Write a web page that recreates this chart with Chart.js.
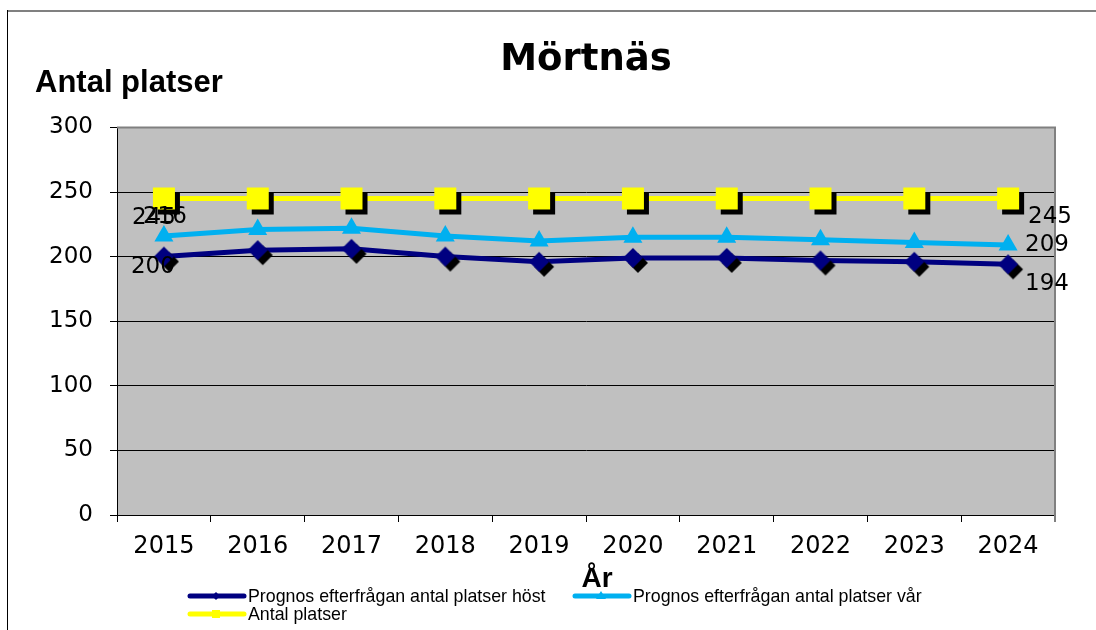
<!DOCTYPE html>
<html>
<head>
<meta charset="utf-8">
<script src="https://cdn.jsdelivr.net/npm/chart.js@4.4.1/dist/chart.umd.min.js"></script>
<style>
body{margin:0;background:#fff}
#wrap{position:relative;width:1096px;height:630px;overflow:hidden}
#mychart{position:absolute;left:0;top:0}
.lg{position:absolute;height:18px;font:17.8px "Liberation Sans",Arial,sans-serif;color:#000;white-space:nowrap;line-height:18px}
.lg canvas{position:absolute;left:0;top:2px}
.lg span{position:absolute;left:61px;top:0}
</style>
</head>
<body>
<div id="wrap">
<canvas id="mychart" width="1096" height="630"></canvas>
<div id="legend"></div>
</div>
<script>
const years = ['2015', '2016', '2017', '2018', '2019', '2020', '2021', '2022', '2023', '2024']
const hostValues = [200, 205, 206, 200, 196, 199, 199, 197, 196, 194]
const varValues = [216, 221, 222, 216, 212, 215, 215, 213, 211, 209]
const antalPlatser = [245, 245, 245, 245, 245, 245, 245, 245, 245, 245]
const yTicks = [0, 50, 100, 150, 200, 250, 300]

const seriesNames = ['Prognos efterfrågan antal platser höst', 'Prognos efterfrågan antal platser vår', 'Antal platser']
const seriesColors = ['#000080', '#00b0f0', '#ffff00']

// marker with black drop shadow, drawn into a small canvas and used as pointStyle
function makeMarker(shape, color, half, shadow){
    const c = document.createElement('canvas')
    const size = 2 * (half + shadow + 2)
    c.width = size
    c.height = size
    const ctx = c.getContext('2d')
    const m = size / 2
    function path(x, y){
        ctx.beginPath()
        if(shape === 'diamond'){
            ctx.moveTo(x - half, y)
            ctx.lineTo(x, y - half)
            ctx.lineTo(x + half, y)
            ctx.lineTo(x, y + half)
        }
        else{
            ctx.rect(x - half, y - half, half * 2, half * 2)
        }
        ctx.closePath()
    }
    ctx.fillStyle = '#000'
    path(m + shadow, m + shadow)
    ctx.fill()
    ctx.fillStyle = color
    path(m, m)
    ctx.fill()
    return c
}

const frame = {
    id: 'frame',
    beforeDraw(chart){
        const ctx = chart.ctx
        const a = chart.chartArea
        ctx.save()
        ctx.fillStyle = '#fff'
        ctx.fillRect(0, 0, chart.width, chart.height)
        ctx.fillStyle = '#c0c0c0'
        ctx.fillRect(a.left, a.top, a.right - a.left, a.bottom - a.top)
        ctx.strokeStyle = '#808080'
        ctx.lineWidth = 2
        ctx.beginPath()
        ctx.moveTo(7, 11)
        ctx.lineTo(chart.width, 11)
        ctx.stroke()
        ctx.strokeStyle = '#000'
        ctx.lineWidth = 1
        ctx.beginPath()
        ctx.moveTo(7.5, 10)
        ctx.lineTo(7.5, chart.height)
        ctx.stroke()
        ctx.restore()
    },
    beforeDatasetsDraw(chart){
        const ctx = chart.ctx
        const a = chart.chartArea
        ctx.save()
        ctx.strokeStyle = '#808080'
        ctx.lineWidth = 2
        ctx.beginPath()
        ctx.moveTo(a.left, a.top)
        ctx.lineTo(a.right, a.top)
        ctx.lineTo(a.right, a.bottom + 7)
        ctx.stroke()
        ctx.restore()
    },
    afterDraw(chart){
        const ctx = chart.ctx
        ctx.save()
        ctx.fillStyle = '#000'
        ctx.textBaseline = 'alphabetic'
        ctx.font = 'bold 31px "Liberation Sans", Arial, sans-serif'
        ctx.textAlign = 'left'
        ctx.fillText('Antal platser', 35, 92)
        ctx.font = 'bold 28px "Liberation Sans", Arial, sans-serif'
        ctx.textAlign = 'center'
        ctx.fillText('År', 597, 587)
        ctx.restore()
    }
}

// value labels at first and last point of each line
const endLabels = {
    id: 'endLabels',
    afterDatasetsDraw(chart, args, opts){
        const ctx = chart.ctx
        ctx.save()
        ctx.font = '23px "DejaVu Sans", Verdana, sans-serif'
        ctx.fillStyle = '#000'
        ctx.textBaseline = 'middle'
        ctx.textAlign = 'left'
        chart.data.datasets.forEach((ds, i) => {
            const pts = chart.getDatasetMeta(i).data
            const off = opts.offsets[i]
            const ends = [0, pts.length - 1]
            ends.forEach((idx, k) => {
                const p = pts[idx]
                ctx.fillText(String(ds.data[idx]), p.x + off[k][0], p.y + off[k][1])
            })
        })
        ctx.restore()
    }
}

const htmlLegend = {
    id: 'htmlLegend',
    afterUpdate(chart, args, opts){
        const box = document.getElementById('legend')
        box.innerHTML = ''
        chart.data.datasets.forEach((ds, i) => {
            const item = document.createElement('div')
            item.className = 'lg'
            item.style.left = opts.spots[i][0] + 'px'
            item.style.top = opts.spots[i][1] + 'px'
            const sym = document.createElement('canvas')
            sym.width = 60
            sym.height = 14
            const c = sym.getContext('2d')
            c.strokeStyle = ds.borderColor
            c.lineWidth = 5
            c.lineCap = 'round'
            c.beginPath()
            c.moveTo(3, 7)
            c.lineTo(57, 7)
            c.stroke()
            c.fillStyle = ds.borderColor
            c.beginPath()
            if(i === 0){
                c.moveTo(25, 7); c.lineTo(29, 3); c.lineTo(33, 7); c.lineTo(29, 11)
            }
            else if(i === 1){
                c.moveTo(29, 2); c.lineTo(34, 10); c.lineTo(24, 10)
            }
            else{
                c.rect(25, 3, 8, 8)
            }
            c.closePath()
            c.fill()
            const tx = document.createElement('span')
            tx.textContent = ds.label
            item.appendChild(sym)
            item.appendChild(tx)
            box.appendChild(item)
        })
    }
}

const canvasforchart = document.getElementById('mychart')

new Chart(canvasforchart, {
    type: 'line',
    data: {
        labels: years,
        datasets: [{
            label: seriesNames[0],
            data: hostValues,
            borderColor: seriesColors[0],
            backgroundColor: seriesColors[0],
            borderWidth: 5,
            pointStyle: makeMarker('diamond', seriesColors[0], 10, 5),
            pointRadius: 10,
            pointHoverRadius: 10
        }, {
            label: seriesNames[1],
            data: varValues,
            borderColor: seriesColors[1],
            backgroundColor: seriesColors[1],
            borderWidth: 5,
            pointStyle: 'triangle',
            pointRadius: 11,
            pointHoverRadius: 11,
            pointBorderWidth: 0,
            pointBackgroundColor: seriesColors[1]
        }, {
            label: seriesNames[2],
            data: antalPlatser,
            borderColor: seriesColors[2],
            backgroundColor: seriesColors[2],
            borderWidth: 5,
            pointStyle: makeMarker('square', seriesColors[2], 11, 5),
            pointRadius: 11,
            pointHoverRadius: 11
        }]
    },
    options: {
        responsive: false,
        animation: false,
        devicePixelRatio: 1,
        layout: {
            padding: {left: 0, top: 0, right: 41, bottom: 0}
        },
        elements: {
            line: {tension: 0}
        },
        scales: {
            x: {
                offset: true,
                grid: {
                    offset: true,
                    drawOnChartArea: false,
                    drawTicks: true,
                    tickLength: 7,
                    color: '#000'
                },
                border: {color: '#000', width: 1},
                ticks: {
                    color: '#000',
                    padding: 10,
                    maxRotation: 0,
                    font: {family: 'DejaVu Sans', size: 24}
                },
                afterFit(scale){
                    scale.height = 115
                }
            },
            y: {
                min: yTicks[0],
                max: yTicks[yTicks.length - 1],
                grid: {
                    color: (c) => c.tick && c.tick.value === yTicks[yTicks.length - 1] ? '#808080' : '#000',
                    tickColor: '#000',
                    tickLength: 7
                },
                border: {color: '#000', width: 1},
                ticks: {
                    stepSize: yTicks[1] - yTicks[0],
                    color: '#000',
                    padding: 17,
                    font: {family: 'DejaVu Sans', size: 23}
                },
                afterFit(scale){
                    scale.width = 117
                }
            }
        },
        plugins: {
            legend: {display: false},
            tooltip: {enabled: false},
            title: {
                display: true,
                fullSize: false,
                text: 'Mörtnäs',
                color: '#000',
                font: {family: 'DejaVu Sans', size: 37, weight: 'bold', lineHeight: 1.2},
                padding: {top: 38, bottom: 45}
            },
            endLabels: {
                offsets: [
                    [[-33, 10], [17, 20]],
                    [[-21, -19], [17, 0]],
                    [[-32, 20], [20, 19]]
                ]
            },
            htmlLegend: {
                spots: [[187, 587], [572, 587], [187, 605]]
            }
        }
    },
    plugins: [frame, endLabels, htmlLegend]
})
</script>
</body>
</html>
